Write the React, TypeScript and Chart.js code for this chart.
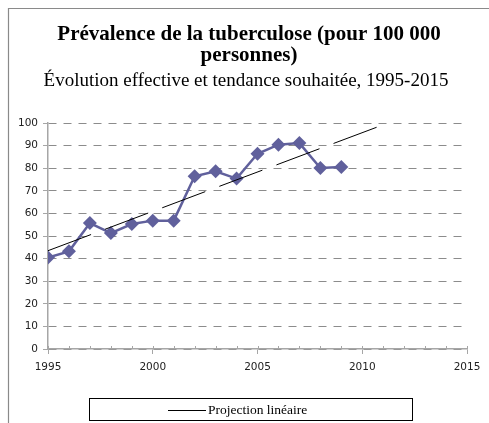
import React, { useEffect, useRef } from "react";
import { Chart, registerables } from "chart.js";

Chart.register(...registerables);

const titleLines = ["Prévalence de la tuberculose (pour 100 000", "personnes)"];
const subtitle = "Évolution effective et tendance souhaitée, 1995-2015";
const legendLabel = "Projection linéaire";

const years = [1995, 1996, 1997, 1998, 1999, 2000, 2001, 2002, 2003, 2004, 2005, 2006, 2007, 2008, 2009];
const prevalence = [40.5, 43.2, 55.7, 51.3, 55.3, 56.8, 56.8, 76.4, 78.6, 75.4, 86.4, 90.4, 91.1, 80.1, 80.5];
const trendYears = [1995, 2010.8];
const trendValues = [43.5, 98.5];

const xMin = 1995;
const xMax = 2015;
const xStep = 5;
const yMin = 0;
const yMax = 100;
const yStep = 10;

const SERIES_COLOR = "#60609c";
const GRID_COLOR = "#8c8c8c";
const AXIS_COLOR = "#a6a6a6";

export default function App() {
  const canvasRef = useRef<HTMLCanvasElement | null>(null);

  useEffect(() => {
    const canvas = canvasRef.current;
    if (!canvas) return;

    const decorPlugin = {
      id: "decor",
      beforeDraw(chart: any) {
        const ctx = chart.ctx;
        ctx.save();
        ctx.fillStyle = "#ffffff";
        ctx.fillRect(0, 0, chart.width, chart.height);
        ctx.strokeStyle = "#8a8a8a";
        ctx.lineWidth = 1.2;
        ctx.beginPath();
        ctx.moveTo(8.5, chart.height);
        ctx.lineTo(8.5, 8.5);
        ctx.lineTo(chart.width, 8.5);
        ctx.stroke();
        ctx.restore();
      },
      afterDraw(chart: any) {
        const ctx = chart.ctx;
        const xs = chart.scales.x;
        const area = chart.chartArea;
        ctx.save();
        // minor ticks
        ctx.strokeStyle = AXIS_COLOR;
        ctx.lineWidth = 1;
        ctx.beginPath();
        for (let yr = xMin; yr <= xMax; yr++) {
          const px = Math.round(xs.getPixelForValue(yr)) + 0.5;
          ctx.moveTo(px, area.bottom);
          ctx.lineTo(px, area.bottom - 3);
        }
        ctx.stroke();

        // titles
        ctx.fillStyle = "#000000";
        ctx.textAlign = "center";
        ctx.textBaseline = "alphabetic";
        ctx.font = "bold 21px 'Liberation Serif', 'Times New Roman', serif";
        ctx.fillText(titleLines[0], 249, 40);
        ctx.fillText(titleLines[1], 249, 61);
        ctx.font = "19px 'Liberation Serif', 'Times New Roman', serif";
        ctx.fillText(subtitle, 246, 86);

        // legend box
        ctx.strokeStyle = "#000000";
        ctx.lineWidth = 1;
        ctx.strokeRect(89.5, 398.5, 323, 22);
        ctx.beginPath();
        ctx.moveTo(168, 410.5);
        ctx.lineTo(206, 410.5);
        ctx.stroke();
        ctx.textAlign = "left";
        ctx.font = "13.5px 'Liberation Serif', 'Times New Roman', serif";
        ctx.fillText(legendLabel, 208, 414);
        ctx.restore();
      },
    };

    const chart = new Chart(canvas, {
      type: "line",
      data: {
        datasets: [
          {
            label: "Prévalence",
            data: years.map((yr, i) => ({ x: yr, y: prevalence[i] })),
            borderColor: SERIES_COLOR,
            backgroundColor: SERIES_COLOR,
            borderWidth: 2.5,
            pointStyle: "rectRot",
            pointRadius: 7,
            pointBorderWidth: 0,
            pointBackgroundColor: SERIES_COLOR,
            tension: 0,
            order: 2,
          },
          {
            label: legendLabel,
            data: trendYears.map((yr, i) => ({ x: yr, y: trendValues[i] })),
            borderColor: "#000000",
            borderWidth: 1,
            borderDash: [46, 15],
            pointRadius: 0,
            tension: 0,
            order: 1,
          },
        ],
      },
      options: {
        animation: false,
        responsive: false,
        maintainAspectRatio: false,
        devicePixelRatio: 1,
        layout: { padding: { top: 123, right: 22, bottom: 0, left: 0 } },
        plugins: {
          legend: { display: false },
          title: { display: false },
          tooltip: { enabled: false },
        },
        scales: {
          x: {
            type: "linear",
            min: xMin,
            max: xMax,
            afterFit: (s: any) => {
              s.height = 74;
            },
            ticks: {
              stepSize: xStep,
              padding: 7,
              color: "#222222",
              font: { family: "'DejaVu Sans', sans-serif", size: 10.5 },
              maxRotation: 0,
              autoSkip: false,
              callback: (v: any) => String(v),
            },
            grid: {
              drawOnChartArea: false,
              drawTicks: true,
              tickLength: 5,
              tickColor: AXIS_COLOR,
              color: AXIS_COLOR,
            },
            border: { display: true, color: AXIS_COLOR, width: 1.5 },
          },
          y: {
            min: yMin,
            max: yMax,
            afterFit: (s: any) => {
              s.width = 48;
            },
            ticks: {
              stepSize: yStep,
              padding: 5,
              color: "#222222",
              font: { family: "'DejaVu Sans', sans-serif", size: 10.5 },
            },
            grid: {
              color: GRID_COLOR,
              lineWidth: 1,
              tickLength: 5,
              tickColor: AXIS_COLOR,
              tickBorderDash: [],
            },
            border: { display: true, color: AXIS_COLOR, width: 1.5, dash: [8, 7] },
          },
        },
      },
      plugins: [decorPlugin],
    } as any);

    return () => {
      chart.destroy();
    };
  }, []);

  return (
    <div style={{ position: "fixed", left: 0, top: 0, width: 489, height: 423 }}>
      <canvas ref={canvasRef} width={489} height={423} style={{ display: "block", width: 489, height: 423 }} />
    </div>
  );
}
